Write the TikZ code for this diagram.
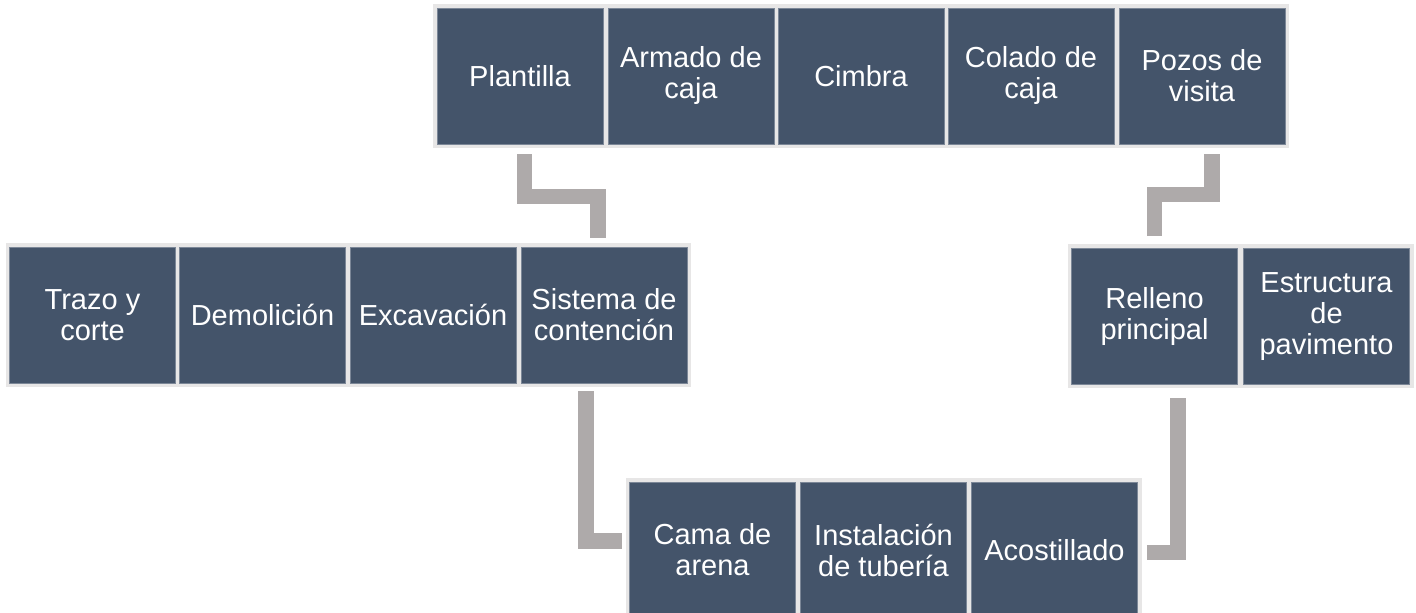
\documentclass[tikz,border=0pt]{standalone}
\usepackage{fontspec}
\setmainfont{Liberation Sans}
\usetikzlibrary{calc,fit,backgrounds}
\definecolor{boxblue}{HTML}{44546A}
\definecolor{grpgray}{HTML}{E7E6E6}
\definecolor{linkgray}{HTML}{AEAAAA}
\tikzset{
	etapa/.style={rectangle, fill=boxblue, draw=boxblue!70!white, line width=0.4pt, text=white,
		minimum width=83pt, minimum height=68pt, inner sep=0pt, align=center,
		font=\fontsize{14.5}{15.5}\selectfont},
	grupo/.style={rectangle, fill=grpgray, inner sep=1.8pt},
	enlace/.style={draw=linkgray, line width=7.75pt}
}

\begin{document}
\begin{tikzpicture}[x=0.5pt, y=-0.5pt]
			%%%%% START %%%%%
			\useasboundingbox (0, 0) rectangle (1416, 613);
			\clip (0, 0) rectangle (1416, 613);
			
			% fila superior
			\node[etapa] (plan) at (520, 76) {Plantilla};
			\node[etapa] (arma) at (691, 76) {Armado de\\caja};
			\node[etapa] (cimb) at (861, 76) {Cimbra};
			\node[etapa] (cola) at (1031, 76) {Colado de\\caja};
			\node[etapa] (pozo) at (1202, 76) {Pozos de\\visita};
			
			% fila izquierda
			\node[etapa] (traz) at (92.5, 315) {Trazo y\\corte};
			\node[etapa] (demo) at (262.5, 315) {Demolición};
			\node[etapa] (exca) at (433, 315) {Excavación};
			\node[etapa] (sist) at (604, 315) {Sistema de\\contención};
			
			% fila derecha
			\node[etapa] (rell) at (1154.5, 316.5) {Relleno\\principal};
			\node[etapa] (estr) at (1326.5, 316.5) {Estructura\\de\\pavimento};
			
			% fila inferior
			\node[etapa] (cama) at (712.5, 550) {Cama de\\arena};
			\node[etapa] (inst) at (883.5, 550) {Instalación\\de tubería};
			\node[etapa] (acos) at (1054.5, 550) {Acostillado};
			
			\begin{scope}[on background layer]
				\node[grupo, fit=(plan)(pozo)] (gsup) {};
				\node[grupo, fit=(traz)(sist)] (gizq) {};
				\node[grupo, fit=(rell)(estr)] (gder) {};
				\node[grupo, fit=(cama)(acos)] (ginf) {};
			\end{scope}
			
			% conectores
			\draw[enlace] ($(plan.south)+(4.5, 10)$) -- ++(0, 42) -| ($(sist.north)+(-6, -9)$);
			\draw[enlace] ($(sist.south)+(-18, 8)$) |- ($(cama.west)+(-7, -9)$);
			\draw[enlace] ($(acos.east)+(9, 2.5)$) -| ($(rell.south)+(23.5, 13)$);
			\draw[enlace] ($(rell.north)+(0, -12)$) -- ++(0, -41.5) -| ($(pozo.south)+(10, 10)$);
			
			%%%%% END %%%%%
\end{tikzpicture}
\end{document}
